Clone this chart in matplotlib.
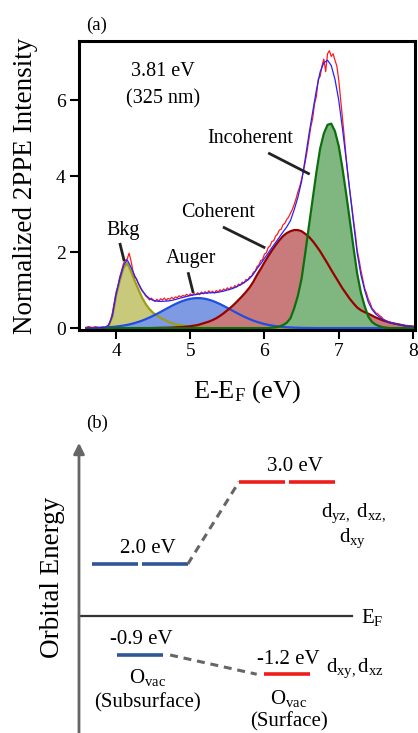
import numpy as np
import matplotlib
matplotlib.use('Agg')
import matplotlib.pyplot as plt

plt.rcParams['font.family'] = 'Liberation Serif'
plt.rcParams['mathtext.fontset'] = 'custom'
plt.rcParams['mathtext.rm'] = 'Liberation Serif'
plt.rcParams['mathtext.it'] = 'Liberation Serif:italic'

# ---- panel (a): 2PPE spectrum and its fitted components ----
energy = np.round(np.arange(3.60, 8.001, 0.05), 3)      # fit grid (eV)
energy_data = np.round(np.arange(3.60, 8.001, 0.025), 3)  # measured grid (eV)

bkg = [0, 0, 0, 0, 0, 0, 0.06, 0.30, 0.85, 1.25,
       1.58, 1.71, 1.50, 1.25, 1.02, 0.80, 0.63, 0.50, 0.40, 0.33,
       0.27, 0.22, 0.17, 0.13, 0.10, 0.08, 0.06, 0.045, 0.035, 0.025,
       0.02, 0.015, 0.01, 0.01, 0.005, 0, 0, 0, 0, 0,
       0, 0, 0, 0, 0, 0, 0, 0, 0, 0,
       0, 0, 0, 0, 0, 0, 0, 0, 0, 0,
       0, 0, 0, 0, 0, 0, 0, 0, 0, 0,
       0, 0, 0, 0, 0, 0, 0, 0, 0, 0,
       0, 0, 0, 0, 0, 0, 0, 0, 0]

auger = [0.003, 0.004, 0.006, 0.009, 0.012, 0.017, 0.023, 0.030, 0.040, 0.052,
         0.067, 0.085, 0.107, 0.133, 0.163, 0.197, 0.236, 0.278, 0.325, 0.374,
         0.426, 0.479, 0.532, 0.584, 0.633, 0.677, 0.716, 0.747, 0.771, 0.785,
         0.790, 0.785, 0.771, 0.747, 0.716, 0.677, 0.633, 0.584, 0.532, 0.479,
         0.426, 0.374, 0.325, 0.278, 0.236, 0.197, 0.163, 0.133, 0.107, 0.085,
         0.067, 0.052, 0.040, 0.030, 0.023, 0.017, 0.012, 0.009, 0.006, 0.004,
         0.003, 0.002, 0.001, 0, 0, 0, 0, 0, 0, 0,
         0, 0, 0, 0, 0, 0, 0, 0, 0, 0,
         0, 0, 0, 0, 0, 0, 0, 0, 0]

coherent = [0, 0, 0, 0, 0, 0, 0, 0, 0, 0,
            0, 0, 0, 0, 0, 0, 0, 0, 0.003, 0.005,
            0.007, 0.009, 0.012, 0.015, 0.02, 0.025, 0.03, 0.04, 0.05, 0.065,
            0.08, 0.11, 0.14, 0.17, 0.21, 0.26, 0.32, 0.39, 0.47, 0.55,
            0.64, 0.74, 0.84, 0.95, 1.07, 1.22, 1.40, 1.56, 1.73, 1.89,
            2.04, 2.18, 2.31, 2.42, 2.50, 2.55, 2.58, 2.58, 2.55, 2.48,
            2.40, 2.29, 2.16, 2.02, 1.86, 1.70, 1.53, 1.37, 1.21, 1.05,
            0.91, 0.77, 0.65, 0.54, 0.47, 0.42, 0.38, 0.33, 0.28, 0.24,
            0.20, 0.17, 0.14, 0.12, 0.10, 0.08, 0.06, 0.05, 0.04]

incoherent = [0, 0, 0, 0, 0, 0, 0, 0, 0, 0,
              0, 0, 0, 0, 0, 0, 0, 0, 0, 0,
              0, 0, 0, 0, 0, 0, 0, 0, 0, 0,
              0, 0, 0, 0, 0, 0, 0, 0, 0, 0,
              0, 0, 0, 0, 0, 0, 0, 0, 0, 0,
              0.01, 0.02, 0.04, 0.08, 0.14, 0.26, 0.52, 0.85, 1.30, 1.98,
              2.70, 3.40, 4.10, 4.72, 5.12, 5.35, 5.38, 5.18, 4.80, 4.22,
              3.55, 2.84, 2.12, 1.43, 0.93, 0.58, 0.30, 0.16, 0.09, 0.05,
              0.02, 0.01, 0, 0, 0, 0, 0, 0, 0]

measured = [0.02, 0.04, 0.03, 0.01, 0.02, 0.04, 0.02, 0.00,
            0.02, 0.03, 0.01, 0.04, 0.08, 0.19, 0.40, 0.68,
            0.95, 1.12, 1.36, 1.52, 1.70, 1.78, 1.82, 1.97,
            1.78, 1.52, 1.34, 1.30, 1.17, 1.06, 0.98, 0.92,
            0.84, 0.80, 0.74, 0.79, 0.74, 0.70, 0.76, 0.71,
            0.77, 0.74, 0.79, 0.73, 0.78, 0.76, 0.81, 0.77,
            0.82, 0.80, 0.85, 0.82, 0.86, 0.84, 0.89, 0.85,
            0.90, 0.86, 0.91, 0.88, 0.93, 0.88, 0.95, 0.90,
            0.96, 0.91, 0.98, 0.93, 0.97, 0.92, 0.99, 0.95,
            1.01, 0.97, 1.03, 0.99, 1.06, 1.01, 1.08, 1.04,
            1.12, 1.08, 1.16, 1.13, 1.21, 1.19, 1.28, 1.26,
            1.35, 1.36, 1.47, 1.50, 1.62, 1.66, 1.78, 1.80,
            1.95, 1.98, 2.12, 2.16, 2.28, 2.30, 2.42, 2.47,
            2.58, 2.60, 2.72, 2.76, 2.86, 2.92, 3.02, 3.12,
            3.25, 3.40, 3.58, 3.72, 3.92, 4.12, 4.38, 4.66,
            4.98, 5.30, 5.52, 5.90, 6.10, 6.55, 6.62, 6.90,
            7.08, 6.75, 7.22, 7.30, 7.15, 7.22, 7.05, 6.90,
            6.55, 6.05, 5.55, 5.05, 4.50, 4.02, 3.62, 3.25,
            2.85, 2.48, 2.05, 1.80, 1.52, 1.28, 1.05, 0.92,
            0.76, 0.66, 0.52, 0.47, 0.40, 0.38, 0.33, 0.30,
            0.24, 0.21, 0.18, 0.16, 0.15, 0.13, 0.12, 0.11,
            0.10, 0.09, 0.08, 0.07, 0.06, 0.05, 0.05, 0.04,
            0.04]

fit_total = np.array(bkg) + np.array(auger) + np.array(coherent) + np.array(incoherent)

# ---- panel (b): level diagram ----
level_labels = ['2.0 eV', '3.0 eV', '-0.9 eV', '-1.2 eV']
level_sites = ['Subsurface', 'Surface', 'Subsurface', 'Surface']
level_nseg = [2, 2, 1, 1]

fig = plt.figure(figsize=(4.18, 7.33), dpi=100)
ax = fig.add_axes([0.189, 0.5498, 0.804, 0.394])

components = [(bkg, '#c9c97c', '#9e9e14'),
              (auger, '#7e9ae2', '#1f4ee0'),
              (coherent, '#c97b7b', '#990000'),
              (incoherent, '#80b680', '#0e6e0e')]
for vals, fc, ec in components:
    ax.fill_between(energy, 0, vals, color=fc, lw=0)
    ax.plot(energy, vals, color=ec, lw=1.6)

ax.plot(energy_data, measured, color='#ff1a1a', lw=0.9)
ax.plot(energy, fit_total, color='#2222ff', lw=0.9)

ax.set_xlim(3.5, 8.03)
ax.set_ylim(-0.05, 7.55)
ax.set_xticks([4, 5, 6, 7, 8])
ax.set_yticks([0, 2, 4, 6])
for s in ax.spines.values():
    s.set_linewidth(2.2)
ax.tick_params(direction='out', length=6.5, width=1.5, labelsize=14, pad=3)
ax.set_ylabel('Normalized 2PPE Intensity', fontsize=19.5, labelpad=13)
ax.set_xlabel(r'E-E$_\mathregular{F}$ (eV)', fontsize=19, labelpad=13)

ax.text(4.63, 6.74, '3.81 eV', fontsize=14.5, ha='center', va='center')
ax.text(4.63, 6.03, '(325 nm)', fontsize=14.5, ha='center', va='center')

notes = [('Incoherent', (5.81, 5.0), (6.05, 4.61), (6.61, 4.05)),
         ('Coherent', (5.37, 3.05), (5.44, 2.66), (6.01, 2.11)),
         ('Auger', (5.01, 1.82), (4.97, 1.47), (5.04, 0.92)),
         ('Bkg', (4.09, 2.58), (4.05, 2.24), (4.11, 1.76))]
for txt, tpos, p0, p1 in notes:
    ax.text(tpos[0], tpos[1], txt, fontsize=14.5, ha='center', va='center')
    ax.plot([p0[0], p1[0]], [p0[1], p1[1]], color='#222222', lw=2.0,
            solid_capstyle='butt')

fig.text(97 / 418, 1 - 25 / 733, '(a)', fontsize=13.5, ha='center', va='center')
fig.text(97 / 418, 1 - 423 / 733, '(b)', fontsize=13.5, ha='center', va='center')

# schematic coordinates: E_F at 0, arbitrary height units
axb = fig.add_axes([0, 0, 1, 0.4134])
axb.set_xlim(-1.519, 6.519)
axb.set_ylim(-2.25, 3.577)
axb.axis('off')

level_height = [1.0, 2.58, -0.75, -1.12]
site_x = {'Subsurface': 1.17, 'Surface': 4.0}
site_color = {'Subsurface': '#2f5597', 'Surface': '#ee1c1c'}
seg_w, seg_gap = 0.885, 0.077

axb.annotate('', xy=(0, 3.33), xytext=(0, -2.4),
             arrowprops=dict(arrowstyle='-|>', lw=2.0, color='#666666',
                             mutation_scale=16, shrinkA=0, shrinkB=0),
             annotation_clip=False)
axb.plot([0, 5.25], [0, 0], color='#333333', lw=1.6)
axb.text(5.42, -0.03, r'E$_\mathregular{F}$', fontsize=15, ha='left', va='center')
axb.text(-0.5, 0.75, 'Orbital Energy', fontsize=19.5, rotation=90,
         ha='center', va='center')

ends = []
for lab, site, nseg, h in zip(level_labels, level_sites, level_nseg, level_height):
    c = site_x[site]
    if nseg == 2:
        segs = [(c - seg_gap / 2 - seg_w, c - seg_gap / 2),
                (c + seg_gap / 2, c + seg_gap / 2 + seg_w)]
    else:
        segs = [(c - seg_w / 2, c + seg_w / 2)]
    for x0, x1 in segs:
        axb.plot([x0, x1], [h, h], color=site_color[site], lw=2.6,
                 solid_capstyle='butt')
    ends.append((segs[0][0], segs[-1][1], h))
    axb.text(c + (0.16 if nseg == 2 else 0.02), h + 0.29, lab, fontsize=15,
             ha='center', va='center')

# dashed links subsurface -> surface
for (a, b, pad) in [(0, 1, 0.0), (2, 3, 0.14)]:
    axb.plot([ends[a][1] + pad, ends[b][0] - pad], [ends[a][2], ends[b][2]],
             color='#666666', lw=2.2, linestyle=(0, (2.6, 1.9)))

axb.text(5.27, 1.98, r'd$_\mathregular{yz,}$ d$_\mathregular{xz,}$', fontsize=15,
         ha='center', va='center')
axb.text(5.27, 1.5, r'd$_\mathregular{xy}$', fontsize=15, ha='center', va='center')
axb.text(4.75, -1.0, r'd$_\mathregular{xy,}$d$_\mathregular{xz}$', fontsize=15,
         ha='left', va='center')
axb.text(1.31, -1.19, r'O$_\mathregular{vac}$', fontsize=15, ha='center', va='center')
axb.text(1.32, -1.67, '(Subsurface)', fontsize=15, ha='center', va='center')
axb.text(4.02, -1.58, r'O$_\mathregular{vac}$', fontsize=15, ha='center', va='center')
axb.text(4.04, -2.04, '(Surface)', fontsize=15, ha='center', va='center')

fig.savefig('out.png', dpi=100)
